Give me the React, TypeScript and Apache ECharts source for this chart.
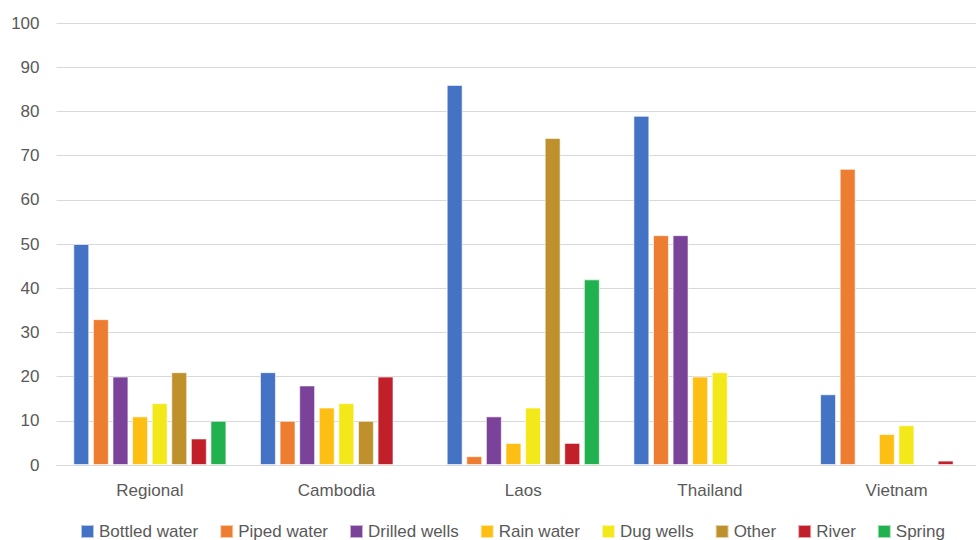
import React, { useEffect, useRef } from "react";
import * as echarts from "echarts";

const categories = ["Regional", "Cambodia", "Laos", "Thailand", "Vietnam"];
const seriesNames = ["Bottled water", "Piped water", "Drilled wells", "Rain water", "Dug wells", "Other", "River", "Spring"];
const bottledWater = [50, 21, 86, 79, 16];
const pipedWater = [33, 10, 2, 52, 67];
const drilledWells = [20, 18, 11, 52, null];
const rainWater = [11, 13, 5, 20, 7];
const dugWells = [14, 14, 13, 21, 9];
const other = [21, 10, 74, null, null];
const river = [6, 20, 5, null, 1];
const spring = [10, null, 42, null, null];
const colors = ["#4472C4", "#ED7D31", "#7A4299", "#FDBF13", "#F3E81A", "#BF912D", "#C1202A", "#21B14F"];

export default function App() {
  const ref = useRef<HTMLDivElement>(null);
  useEffect(() => {
    if (!ref.current) return;
    const chart = echarts.init(ref.current, undefined, { renderer: "svg" });
    const values = [bottledWater, pipedWater, drilledWells, rainWater, dugWells, other, river, spring];
    chart.setOption({
      animation: false,
      color: colors,
      textStyle: { fontFamily: "Liberation Sans, Arial, sans-serif" },
      grid: { left: 56.5, top: 23, bottom: 75, right: -14, containLabel: false, outerBoundsMode: "none" },
      legend: {
        top: 518,
        left: 75,
        width: 900,
        itemWidth: 13,
        itemHeight: 13,
        itemGap: 21,
        icon: "rect",
        textStyle: { fontSize: 17, color: "#595959" },
        data: seriesNames,
      },
      xAxis: {
        type: "category",
        data: categories,
        axisLine: { lineStyle: { color: "#D9D9D9", width: 1 } },
        axisTick: { show: false },
        axisLabel: { fontSize: 17, color: "#595959", margin: 17 },
      },
      yAxis: {
        type: "value",
        min: 0,
        max: 100,
        interval: 10,
        axisLine: { show: false },
        axisTick: { show: false },
        splitLine: { lineStyle: { color: "#D9D9D9", width: 1 } },
        axisLabel: { fontSize: 17, color: "#595959", margin: 17 },
      },
      series: seriesNames.map((name, i) => ({
        name,
        type: "bar",
        data: values[i],
        barGap: "23%",
        barCategoryGap: "18%",
        itemStyle: { borderColor: "rgba(255,255,255,0.6)", borderWidth: 1 },
      })),
    });
    return () => chart.dispose();
  }, []);
  return <div ref={ref} style={{ width: 976, height: 540, position: "absolute", left: 0, top: 0 }} />;
}
